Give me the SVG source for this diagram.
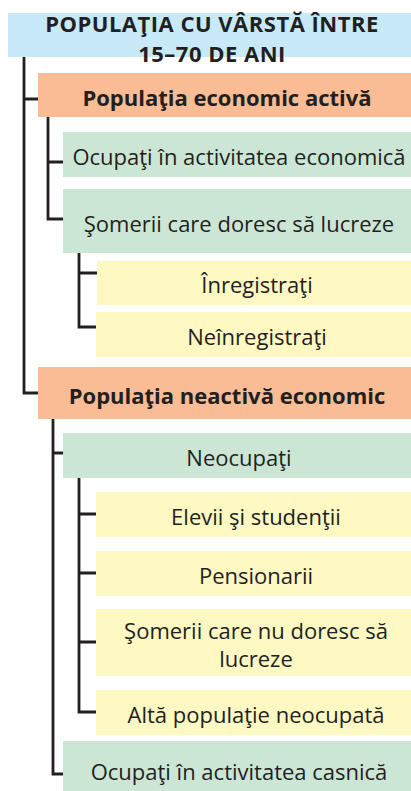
<svg xmlns="http://www.w3.org/2000/svg" width="411" height="791" viewBox="0 0 411 791">
<style>
.t{font-family:"Open Sans","Noto Sans","Liberation Sans",sans-serif;font-size:22px;fill:#231f20;text-anchor:middle}
.b{font-weight:bold}
.h{letter-spacing:0.5px}
.c{fill:none;stroke:#231f20;stroke-width:2.8}
.blue{fill:#c8e9f8}.orange{fill:#f9bc95}.green{fill:#cce6d6}.yellow{fill:#fef8c3}
</style>
<rect width="411" height="791" fill="#fff"/>
<g id="connectors">
<path class="c" d="M24,57 V393 H38 M24,99 H38"/>
<path class="c" d="M48,117 V219 H63 M48,162 H63"/>
<path class="c" d="M79,253 V327 H97 M79,273 H97"/>
<path class="c" d="M53,419 V774 H63 M53,453 H63"/>
<path class="c" d="M79,478 V712 H97 M79,514 H97 M79,573 H97 M79,642 H97"/>
</g>
<g id="root"><rect class="blue" x="8" y="13" width="403" height="44"/>
<text class="t b h"><tspan x="212" y="32">POPULAŢIA CU VÂRSTĂ ÎNTRE</tspan><tspan x="212" y="62">15–70 DE ANI</tspan></text></g>
<g id="activa"><rect class="orange" x="38" y="73" width="373" height="44"/>
<text class="t b" x="227" y="106">Populaţia economic activă</text></g>
<g id="ocupati-ec"><rect class="green" x="63" y="132" width="348" height="45"/>
<text class="t" x="239" y="165">Ocupaţi în activitatea economică</text></g>
<g id="someri-doresc"><rect class="green" x="63" y="189" width="348" height="64"/>
<text class="t" x="239" y="232">Şomerii care doresc să lucreze</text></g>
<g id="inregistrati"><rect class="yellow" x="97" y="261" width="314" height="44"/>
<text class="t" x="257" y="293">Înregistraţi</text></g>
<g id="neinregistrati"><rect class="yellow" x="96" y="312" width="315" height="45"/>
<text class="t" x="257" y="345">Neînregistraţi</text></g>
<g id="neactiva"><rect class="orange" x="38" y="367" width="373" height="52"/>
<text class="t b" x="227" y="404">Populaţia neactivă economic</text></g>
<g id="neocupati"><rect class="green" x="63" y="433" width="348" height="45"/>
<text class="t" x="239" y="466">Neocupaţi</text></g>
<g id="elevi"><rect class="yellow" x="96" y="492" width="315" height="45"/>
<text class="t" x="256" y="525">Elevii şi studenţii</text></g>
<g id="pensionarii"><rect class="yellow" x="96" y="551" width="315" height="45"/>
<text class="t" x="256" y="584">Pensionarii</text></g>
<g id="someri-nu"><rect class="yellow" x="96" y="609" width="315" height="67"/>
<text class="t"><tspan x="256" y="639">Şomerii care nu doresc să</tspan><tspan x="256" y="667">lucreze</tspan></text></g>
<g id="alta"><rect class="yellow" x="96" y="690" width="315" height="45"/>
<text class="t" x="256" y="723">Altă populaţie neocupată</text></g>
<g id="casnica"><rect class="green" x="63" y="741" width="348" height="50"/>
<text class="t" x="239" y="780">Ocupaţi în activitatea casnică</text></g>
</svg>
